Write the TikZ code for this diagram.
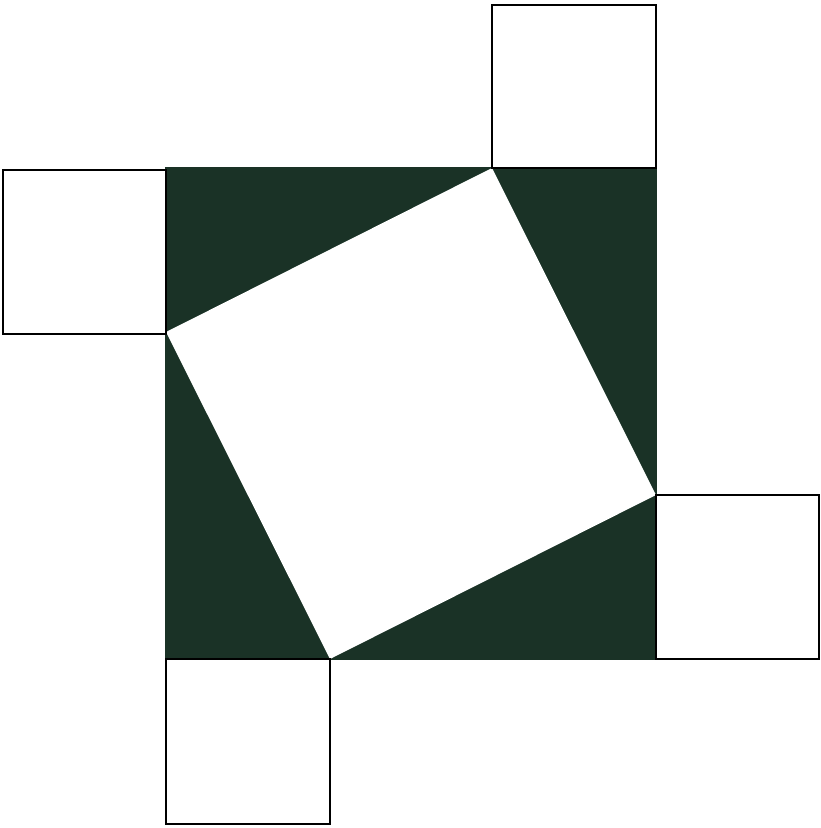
\documentclass[tikz,border=0pt]{standalone}
\definecolor{darkfill}{RGB}{26,50,38}
\begin{document}
\begin{tikzpicture}[x=1pt,y=-1pt,
  sq/.style={draw=black,line width=1.8pt,fill=white},
  tri/.style={fill=darkfill,draw=none}]
\useasboundingbox (0,0) rectangle (820,828);
% big square
\coordinate (TL) at (166,168);
\coordinate (TR) at (656,168);
\coordinate (BR) at (656,659);
\coordinate (BL) at (166,659);
% inner vertices
\coordinate (P) at (492,168);
\coordinate (Q) at (656,495);
\coordinate (Rr) at (330,659);
\coordinate (S) at (166,332);
\fill[darkfill] (TL) rectangle (BR);
\draw[line width=1.2pt,darkfill] (TL) rectangle (BR);
\fill[white] (P) -- (Q) -- (Rr) -- (S) -- cycle;
% small squares
\draw[sq] (492,5) rectangle (656,168);
\draw[sq] (3,170) rectangle (166,334);
\draw[sq] (656,495) rectangle (819,659);
\draw[sq] (166,659) rectangle (330,824);
\end{tikzpicture}
\end{document}
